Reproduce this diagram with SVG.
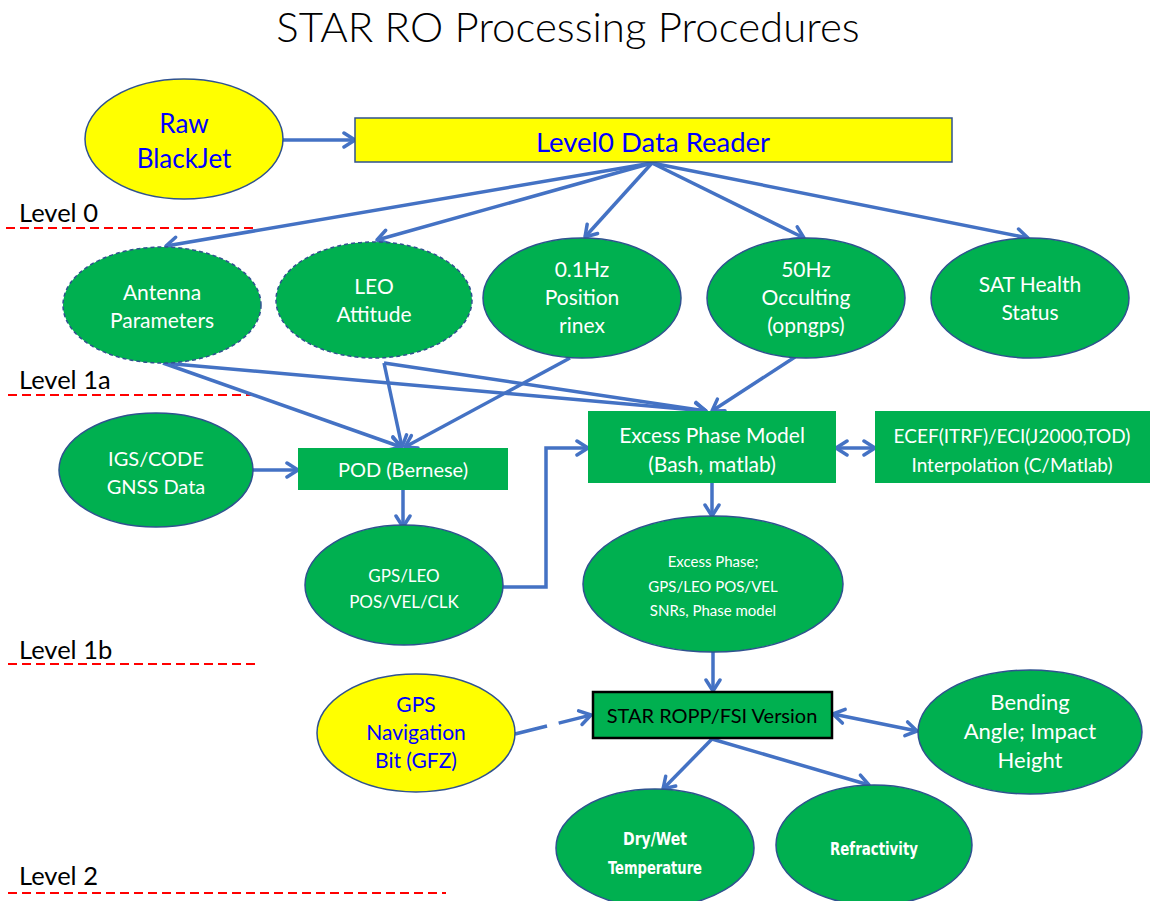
<svg xmlns="http://www.w3.org/2000/svg" width="1154" height="901" viewBox="0 0 1154 901">
<defs>
<marker id="arr" viewBox="0 0 20 20" refX="18" refY="10" markerWidth="20" markerHeight="20" markerUnits="userSpaceOnUse" orient="auto-start-reverse">
<path d="M7,3 L18,10 L7,17" fill="none" stroke="#4472c4" stroke-width="3.5" stroke-linecap="round" stroke-linejoin="round"/>
</marker>
<style>
.t{font-family:Lato,"Liberation Sans",sans-serif;text-anchor:middle}
.w{fill:#ffffff}
.b{fill:#0000ff}
.k{fill:#000000}
.g{fill:#00b050;stroke:#2f528f;stroke-width:1.5}
.gd{fill:#00b050;stroke:#2f528f;stroke-width:1.5;stroke-dasharray:4 3}
.y{fill:#ffff00;stroke:#2f528f;stroke-width:1.5}
.c{fill:none;stroke:#4472c4;stroke-width:3.5;marker-end:url(#arr)}
.lv{font-family:Lato,"Liberation Sans",sans-serif;font-size:25.5px;fill:#000}
.rl{stroke:#ff0000;stroke-width:2;stroke-dasharray:9 5}
.hv{font-family:"DejaVu Sans Condensed","DejaVu Sans",sans-serif;font-weight:bold;font-stretch:condensed}
</style>
</defs>
<rect width="1154" height="901" fill="#ffffff"/>
<text x="568" y="42" class="t" font-size="42" font-weight="300" fill="#000">STAR RO Processing Procedures</text>

<g id="levels">
<text x="19" y="222" class="lv">Level 0</text>
<line x1="6" y1="228" x2="256" y2="228" class="rl"/>
<text x="19" y="389" class="lv">Level 1a</text>
<line x1="8" y1="395" x2="257" y2="395" class="rl"/>
<text x="19" y="659" class="lv">Level 1b</text>
<line x1="8" y1="664" x2="257" y2="664" class="rl"/>
<text x="19" y="885" class="lv">Level 2</text>
<line x1="8" y1="893" x2="446" y2="893" class="rl"/>
</g>

<g id="connectors">
<line x1="282" y1="140" x2="355" y2="140" class="c"/>
<line x1="652" y1="163" x2="166" y2="246" class="c"/>
<line x1="652" y1="163" x2="377" y2="240" class="c"/>
<line x1="652" y1="163" x2="585" y2="237" class="c"/>
<line x1="652" y1="163" x2="804" y2="238" class="c"/>
<line x1="652" y1="163" x2="1028" y2="238" class="c"/>
<line x1="163" y1="363" x2="401" y2="447" class="c"/>
<line x1="163" y1="363" x2="706" y2="411" class="c"/>
<line x1="384" y1="363" x2="402" y2="447" class="c"/>
<line x1="384" y1="363" x2="706" y2="411" class="c"/>
<line x1="570" y1="358" x2="405" y2="447" class="c"/>
<line x1="795" y1="357" x2="712" y2="411" class="c"/>
<line x1="253" y1="470" x2="298" y2="470" class="c"/>
<line x1="403" y1="490" x2="403" y2="527" class="c"/>
<polyline points="503,587 546,587 546,448 588,448" class="c"/>
<line x1="836" y1="448" x2="875" y2="448" class="c" marker-start="url(#arr)"/>
<line x1="712" y1="483" x2="712" y2="516" class="c"/>
<line x1="713" y1="652" x2="713" y2="691" class="c"/>
<line x1="515" y1="734" x2="591" y2="715" class="c" stroke-dasharray="33 12"/>
<line x1="833" y1="714" x2="917" y2="731" class="c" marker-start="url(#arr)"/>
<line x1="712" y1="739" x2="663" y2="789" class="c"/>
<line x1="712" y1="739" x2="869" y2="785" class="c"/>
</g>

<g id="raw">
<ellipse cx="184" cy="139" rx="99" ry="60" class="y"/>
<text x="184" y="133" class="t b" font-size="26">Raw</text>
<text x="184" y="168" class="t b" font-size="26">BlackJet</text>
</g>
<g id="reader">
<rect x="355" y="118" width="597" height="44" fill="#ffff00" stroke="#2f528f" stroke-width="1.5"/>
<text x="653" y="152" class="t b" font-size="27.5">Level0 Data Reader</text>
</g>
<g id="antenna">
<ellipse cx="162" cy="305" rx="99" ry="58" class="gd"/>
<text x="162" y="300" class="t w" font-size="21">Antenna</text>
<text x="162" y="328" class="t w" font-size="21">Parameters</text>
</g>
<g id="leo">
<ellipse cx="374" cy="300" rx="98" ry="58" class="gd"/>
<text x="374" y="294" class="t w" font-size="21">LEO</text>
<text x="374" y="322" class="t w" font-size="21">Attitude</text>
</g>
<g id="pos01">
<ellipse cx="582" cy="298" rx="99" ry="60" class="g"/>
<text x="582" y="277" class="t w" font-size="21">0.1Hz</text>
<text x="582" y="305" class="t w" font-size="21">Position</text>
<text x="582" y="333" class="t w" font-size="21">rinex</text>
</g>
<g id="occ50">
<ellipse cx="806" cy="298" rx="99" ry="60" class="g"/>
<text x="806" y="277" class="t w" font-size="21">50Hz</text>
<text x="806" y="305" class="t w" font-size="21">Occulting</text>
<text x="806" y="333" class="t w" font-size="21">(opngps)</text>
</g>
<g id="sat">
<ellipse cx="1030" cy="298" rx="99" ry="60" class="g"/>
<text x="1030" y="292" class="t w" font-size="21">SAT Health</text>
<text x="1030" y="320" class="t w" font-size="21">Status</text>
</g>
<g id="igs">
<ellipse cx="156" cy="470" rx="97" ry="57" class="g"/>
<text x="156" y="466" class="t w" font-size="20">IGS/CODE</text>
<text x="156" y="494" class="t w" font-size="20">GNSS Data</text>
</g>
<g id="pod">
<rect x="298" y="448" width="210" height="42" fill="#00b050"/>
<text x="403" y="477" class="t w" font-size="20">POD (Bernese)</text>
</g>
<g id="excess">
<rect x="588" y="411" width="248" height="72" fill="#00b050"/>
<text x="712" y="443" class="t w" font-size="21">Excess Phase Model</text>
<text x="712" y="472" class="t w" font-size="21">(Bash, matlab)</text>
</g>
<g id="ecef">
<rect x="875" y="411" width="275" height="72" fill="#00b050"/>
<text x="1012" y="443" class="t w" font-size="19">ECEF(ITRF)/ECI(J2000,TOD)</text>
<text x="1012" y="472" class="t w" font-size="19">Interpolation (C/Matlab)</text>
</g>
<g id="gpsleo">
<ellipse cx="404" cy="585" rx="99" ry="60" class="g"/>
<text x="404" y="582" class="t w" font-size="17">GPS/LEO</text>
<text x="404" y="608" class="t w" font-size="17">POS/VEL/CLK</text>
</g>
<g id="excessout">
<ellipse cx="713" cy="584" rx="130" ry="68" class="g"/>
<text x="713" y="567" class="t w" font-size="15">Excess Phase;</text>
<text x="713" y="592" class="t w" font-size="15">GPS/LEO POS/VEL</text>
<text x="713" y="616" class="t w" font-size="15">SNRs, Phase model</text>
</g>
<g id="ropp">
<rect x="593" y="692" width="239" height="46" fill="#00b050" stroke="#000" stroke-width="2.5"/>
<text x="712" y="723" class="t k" font-size="20">STAR ROPP/FSI Version</text>
</g>
<g id="navbit">
<ellipse cx="416" cy="733" rx="99" ry="59" class="y"/>
<text x="416" y="712" class="t b" font-size="21">GPS</text>
<text x="416" y="740" class="t b" font-size="21">Navigation</text>
<text x="416" y="768" class="t b" font-size="21">Bit (GFZ)</text>
</g>
<g id="bending">
<ellipse cx="1030" cy="732" rx="112" ry="62" class="g"/>
<text x="1030" y="710" class="t w" font-size="22">Bending</text>
<text x="1030" y="739" class="t w" font-size="22">Angle; Impact</text>
<text x="1030" y="768" class="t w" font-size="22">Height</text>
</g>
<g id="drywet">
<ellipse cx="655" cy="848" rx="99" ry="59" class="g"/>
<text x="655" y="845" class="t w hv" font-size="17" textLength="64" lengthAdjust="spacingAndGlyphs">Dry/Wet</text>
<text x="655" y="874" class="t w hv" font-size="17" textLength="94" lengthAdjust="spacingAndGlyphs">Temperature</text>
</g>
<g id="refr">
<ellipse cx="874" cy="845" rx="98" ry="60" class="g"/>
<text x="874" y="855" class="t w hv" font-size="17" textLength="88" lengthAdjust="spacingAndGlyphs">Refractivity</text>
</g>
</svg>
